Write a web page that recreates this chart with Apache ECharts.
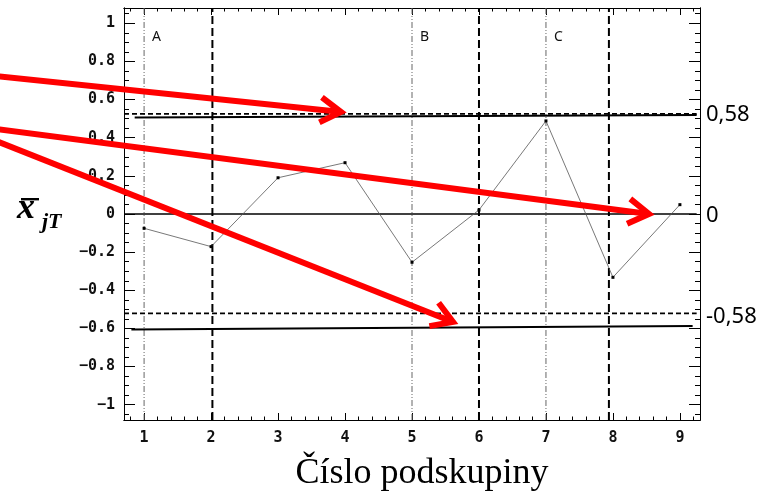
<!DOCTYPE html>
<html>
<head>
<meta charset="utf-8">
<script src="https://cdn.jsdelivr.net/npm/echarts@6/dist/echarts.min.js"></script>
<style>
html,body{margin:0;padding:0;background:#fff;}
#chart{width:769px;height:498px;}
</style>
</head>
<body>
<div id="chart"></div>
<script>
// ---- data ----
const subgroups = [1, 2, 3, 4, 5, 6, 7, 8, 9];
const xbarValues = [-0.075, -0.171, 0.19, 0.269, -0.253, 0.021, 0.488, -0.332, 0.049];
const xTickValues = [1, 2, 3, 4, 5, 6, 7, 8, 9];
const yTickValues = [-1, -0.8, -0.6, -0.4, -0.2, 0, 0.2, 0.4, 0.6, 0.8, 1];
const sectionNames = ['A', 'B', 'C'];
const sectionStarts = [1, 5, 7];
const sectionEnds = [2.02, 6, 7.94];
const upperDashedLimit = 0.525;
const lowerDashedLimit = -0.521;
const upperSolidEnds = [[0.86, 0.506], [9.25, 0.519]];
const lowerSolidEnds = [[0.81, -0.606], [9.19, -0.587]];
const centerLineEnds = [[0.7, 0], [9.25, 0]];
const limitLabels = ['0,58', '0', '-0,58'];
const xTitle = 'Číslo podskupiny';

const X_MIN = 0.7, X_MAX = 9.3, Y_MIN = -1.08, Y_MAX = 1.08;

function range(a, b, step) {
  const out = [];
  const n = Math.round((b - a) / step);
  for (let i = 0; i <= n; i++) out.push(Math.round((a + i * step) * 1000) / 1000);
  return out;
}
const xMinor = range(0.8, 9.2, 0.2);
const yMinor = range(-1.05, 1.05, 0.05);

const labelFont = {fontFamily: 'DejaVu Sans Mono', fontWeight: 'bold', fontSize: 15, color: '#111'};
const axisLineStyle = {show: true, onZero: false, lineStyle: {color: '#000', width: 1}};

function xAx(pos, vals, len, labels) {
  return {
    type: 'value', position: pos, min: X_MIN, max: X_MAX,
    axisLine: axisLineStyle,
    axisTick: {show: true, inside: true, length: len, customValues: vals, lineStyle: {color: '#000', width: 1}},
    axisLabel: labels ? Object.assign({show: true, margin: 11, customValues: vals, formatter: v => String(v)}, labelFont) : {show: false},
    splitLine: {show: false}
  };
}
function yAx(pos, vals, len, labels) {
  return {
    type: 'value', position: pos, min: Y_MIN, max: Y_MAX,
    axisLine: axisLineStyle,
    axisTick: {show: true, inside: true, length: len, customValues: vals, lineStyle: {color: '#000', width: 1}},
    axisLabel: labels ? Object.assign({show: true, margin: 9, customValues: vals,
      formatter: v => (v < 0 ? '\u2212' + String(Math.abs(v)) : String(v))}, labelFont) : {show: false},
    splitLine: {show: false}
  };
}

function lineSeries(data, style, z) {
  return {
    type: 'line', xAxisIndex: 0, yAxisIndex: 0, data: data, symbol: 'none',
    lineStyle: style, silent: true, z: z || 2, animation: false, clip: false
  };
}

const series = [];
// section boundaries
sectionStarts.forEach(x => series.push(lineSeries([[x, Y_MIN], [x, Y_MAX]], {color: '#666', width: 1, type: [6, 2, 1, 2, 1, 2]})));
sectionEnds.forEach(x => series.push(lineSeries([[x, Y_MIN], [x, Y_MAX]], {color: '#000', width: 2, type: [8, 4]})));
// limits
series.push(lineSeries([[X_MIN, upperDashedLimit], [9.25, upperDashedLimit]], {color: '#000', width: 1.6, type: [5, 3]}));
series.push(lineSeries([[X_MIN, lowerDashedLimit], [9.25, lowerDashedLimit]], {color: '#000', width: 1.6, type: [5, 3]}));
series.push(lineSeries(upperSolidEnds, {color: '#000', width: 2}));
series.push(lineSeries(lowerSolidEnds, {color: '#000', width: 2}));
series.push(lineSeries(centerLineEnds, {color: '#000', width: 1.3}));
// data
series.push({
  type: 'line', xAxisIndex: 0, yAxisIndex: 0,
  data: subgroups.map((s, i) => [s, xbarValues[i]]),
  symbol: 'rect', symbolSize: 3, showSymbol: true,
  itemStyle: {color: '#000'},
  lineStyle: {color: '#555', width: 0.8},
  z: 3, animation: false
});

const chart = echarts.init(document.getElementById('chart'), null, {renderer: 'canvas'});
chart.setOption({
  backgroundColor: '#fff',
  animation: false,
  grid: {left: 124, right: 69, top: 8, bottom: 78, outerBoundsMode: 'none', containLabel: false},
  xAxis: [
    xAx('bottom', xTickValues, 7, true),
    xAx('bottom', xMinor, 3.5, false),
    xAx('top', xTickValues, 7, false),
    xAx('top', xMinor, 3.5, false)
  ],
  yAxis: [
    yAx('left', yTickValues, 11, true),
    yAx('left', yMinor, 5, false),
    yAx('right', yTickValues, 11, false),
    yAx('right', yMinor, 5, false)
  ],
  series: series
});

// ---- annotations ----
const g = [];
// section letters
sectionNames.forEach((n, i) => {
  const p = chart.convertToPixel({xAxisIndex: 0, yAxisIndex: 0}, [sectionStarts[i], Y_MAX]);
  g.push({type: 'text', x: p[0] + 8, y: 37, z: 50,
    style: {text: n, font: '14px "Noto Sans"', fill: '#111', verticalAlign: 'middle'}});
});
// right-side limit labels
const limitY = [115, 216, 317];
limitLabels.forEach((t, i) => {
  g.push({type: 'text', x: 705, y: limitY[i], z: 50,
    style: {text: t, font: '22px "Noto Sans"', fill: '#000', verticalAlign: 'middle', align: 'left',
      backgroundColor: '#fff', padding: [0, 2, 0, 1]}});
});
// y-axis title  x̄ jT
g.push({type: 'text', x: 17, y: 209, z: 50,
  style: {text: 'x', font: 'italic bold 36px "Liberation Serif"', fill: '#000', verticalAlign: 'middle'}});
g.push({type: 'rect', shape: {x: 21, y: 198, width: 18, height: 2.4}, style: {fill: '#000'}, z: 50});
g.push({type: 'text', x: 42, y: 222, z: 50,
  style: {text: 'jT', font: 'italic bold 22px "Liberation Serif"', fill: '#000', verticalAlign: 'middle'}});
// x-axis title
g.push({type: 'text', x: 422, y: 474, z: 50,
  style: {text: xTitle, font: '36px "Liberation Serif"', fill: '#000', align: 'center', verticalAlign: 'middle'}});

// red arrows
function arrow(x0, y0, x1, y1) {
  const ang = Math.atan2(y1 - y0, x1 - x0);
  const L = 24, a = 0.55;
  const p1 = [x1 - L * Math.cos(ang - a), y1 - L * Math.sin(ang - a)];
  const p2 = [x1 - L * Math.cos(ang + a), y1 - L * Math.sin(ang + a)];
  const st = {stroke: '#ff0000', lineWidth: 6, fill: null, lineCap: 'butt', lineJoin: 'miter'};
  g.push({type: 'polyline', z: 100, shape: {points: [[x0, y0], [x1 - 2 * Math.cos(ang), y1 - 2 * Math.sin(ang)]]}, style: st});
  g.push({type: 'polyline', z: 100, shape: {points: [p1, [x1, y1], p2]}, style: st});
}
arrow(-10, 75.5, 341, 112);
arrow(-10, 128.2, 649, 214);
arrow(-10, 138.5, 453, 322);

chart.setOption({graphic: g});
</script>
</body>
</html>
